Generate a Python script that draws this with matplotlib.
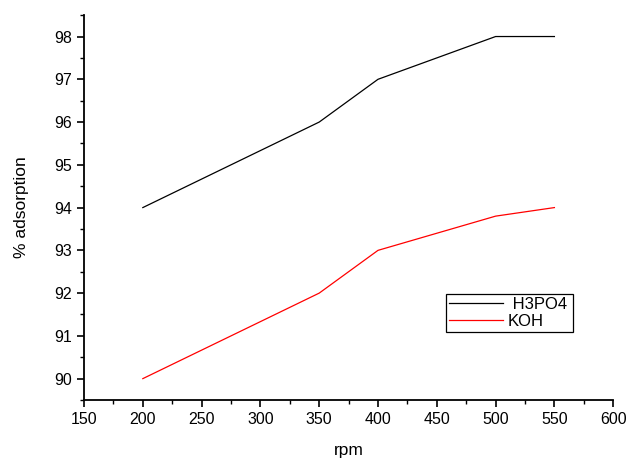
import matplotlib
matplotlib.use('Agg')
import matplotlib.pyplot as plt
from matplotlib.ticker import MultipleLocator

plt.rcParams['font.family'] = ['Liberation Sans', 'DejaVu Sans']

rpm = [200, 350, 400, 500, 550]
h3po4 = [94, 96, 97, 98, 98]
koh = [90, 92, 93, 93.8, 94]

fig = plt.figure(figsize=(6.27, 4.59), dpi=100)
ax = fig.add_axes([0.134, 0.1285, 0.844, 0.8385])

ax.plot(rpm, h3po4, color='black', linewidth=0.9, label=' H3PO4')
ax.plot(rpm, koh, color='red', linewidth=0.9, label='KOH')

ax.set_xlim(150, 600)
ax.set_ylim(89.5, 98.5)
ax.xaxis.set_major_locator(MultipleLocator(50))
ax.xaxis.set_minor_locator(MultipleLocator(25))
ax.yaxis.set_major_locator(MultipleLocator(1))
ax.yaxis.set_minor_locator(MultipleLocator(0.5))

for s in ['top', 'right']:
    ax.spines[s].set_visible(False)
for s in ['left', 'bottom']:
    ax.spines[s].set_linewidth(1.3)

ax.tick_params(which='major', direction='out', length=5, width=1.2, labelsize=11.5)
ax.tick_params(which='minor', direction='out', length=3, width=1.0)

ax.set_xlabel('rpm', fontsize=12.5, labelpad=12)
ax.set_ylabel('% adsorption', fontsize=12.5, labelpad=18)

leg = ax.legend(loc='lower left', bbox_to_anchor=(0.684, 0.177, 0.24, 0.122),
                mode='expand', borderaxespad=0, fancybox=False, framealpha=1,
                edgecolor='black', fontsize=12, handlelength=3.2,
                handletextpad=0.3, labelspacing=0.1, borderpad=0.2)
leg.get_frame().set_linewidth(0.9)

fig.savefig('out.png', dpi=100)
